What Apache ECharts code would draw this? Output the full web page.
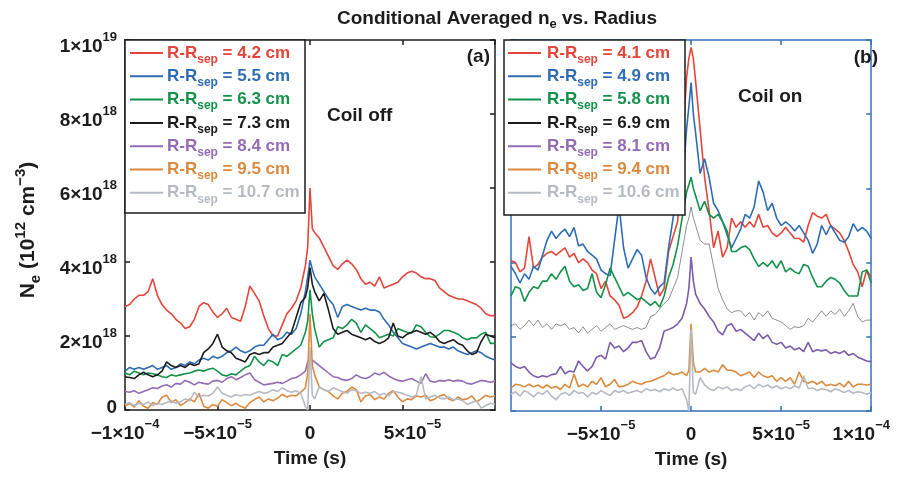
<!DOCTYPE html>
<html>
<head>
<meta charset="utf-8">
<script src="https://cdn.jsdelivr.net/npm/echarts@6/dist/echarts.min.js"></script>
<style>
  html, body { margin: 0; padding: 0; background: #fff; }
  #chartBox { width: 903px; height: 478px; }
</style>
</head>
<body>
<div id="chartBox"></div>
<script>
// time axis in microseconds, densities in units of 1e18
const time = [
  -100, -97.5, -95, -92.5, -90, -87.5, -85, -82.5, -80, -77.5,
  -75, -72.5, -70, -67.5, -65, -62.5, -60, -57.5, -55, -52.5,
  -50, -47.5, -45, -42.5, -40, -37.5, -35, -32.5, -30, -27.5,
  -25, -22.5, -20, -17.5, -15, -12.5, -10, -7.5, -5, -2.5,
  -1.25, 0, 1.25,
  2.5, 5, 7.5, 10, 12.5, 15, 17.5, 20, 22.5, 25,
  27.5, 30, 32.5, 35, 37.5, 40, 42.5, 45, 47.5, 50,
  52.5, 55, 57.5, 60, 62.5, 65, 67.5, 70, 72.5, 75,
  77.5, 80, 82.5, 85, 87.5, 90, 92.5, 95, 97.5, 100
];

// (a) coil off
const labelsOff = ['4.2 cm', '5.5 cm', '6.3 cm', '7.3 cm', '8.4 cm', '9.5 cm', '10.7 cm'];
const off42 = [
  2.8, 2.85, 3.0, 3.1, 3.1, 3.2, 3.55, 3.1, 2.85, 2.7,
  2.6, 2.45, 2.35, 2.2, 2.25, 2.45, 2.8, 2.9, 2.85, 2.65,
  2.5, 2.6, 2.75, 2.5, 2.45, 2.4, 2.8, 3.35, 3.15, 2.95,
  2.55, 2.2, 2.0, 2.0, 2.3, 2.6, 2.75, 2.95, 3.3, 3.9,
  4.4, 6.0, 4.9,
  4.8, 4.65, 4.4, 4.15, 3.9, 3.8, 3.95, 4.05, 3.95, 3.8,
  3.55, 3.4, 3.45, 3.35, 3.6, 3.3, 3.35, 3.4, 3.45, 3.6,
  3.7, 3.75, 3.7, 3.6, 3.55, 3.55, 3.5, 3.3, 3.2, 3.1,
  3.05, 3.0, 3.0, 2.95, 2.9, 2.85, 2.75, 2.6, 2.55, 2.55
];
const off55 = [
  1.05, 1.15, 1.1, 1.15, 1.1, 1.15, 1.2, 1.1, 1.15, 1.2,
  1.1, 1.15, 1.25, 1.2, 1.3, 1.25, 1.35, 1.4, 1.35, 1.45,
  1.4, 1.45, 1.55, 1.6, 1.7, 1.6, 1.55, 1.6, 1.7, 1.75,
  1.75, 1.9, 2.05, 1.9, 1.95, 2.1, 2.05, 2.2, 2.6, 3.2,
  3.6, 4.05, 3.8,
  3.6, 3.4, 3.2, 3.0, 2.85, 2.5, 2.8, 2.85, 2.8, 2.75,
  2.7, 2.75, 2.7, 2.7, 2.65, 2.45, 2.3, 2.1, 1.95, 1.8,
  1.75, 1.7, 1.65, 1.7, 1.75, 1.8, 1.75, 1.7, 1.7, 1.65,
  1.7, 1.6, 1.55, 1.5, 1.55, 1.6, 1.55, 1.45, 1.4, 1.35
];
const off63 = [
  1.0, 0.95, 1.05, 1.0, 0.95, 1.0, 0.98, 0.95, 0.9, 0.88,
  0.95, 0.92, 0.95, 0.98, 1.0, 1.05, 1.08, 1.05, 1.1, 1.13,
  1.05, 0.95, 0.92, 0.98, 0.95, 1.05, 1.15, 1.2, 1.45, 1.3,
  1.2, 1.35, 1.3, 1.2, 1.5, 1.45, 1.55, 1.65, 1.75, 2.1,
  2.4, 3.25, 2.6,
  2.2, 1.7, 1.85, 1.9, 1.95, 2.25, 2.2, 2.3, 2.45, 2.35,
  2.1, 2.3, 2.2, 2.1, 1.95, 2.0, 2.05, 2.0, 2.2, 2.15,
  2.1, 2.08, 2.3, 2.25, 2.1, 1.98, 1.97, 2.05, 2.15, 2.15,
  2.1, 2.05, 1.95, 1.9, 1.95, 1.95, 2.05, 2.1, 1.8, 1.8
];
const off73 = [
  0.9, 0.88, 0.85, 0.95, 1.02, 0.95, 0.9, 0.95, 1.05, 1.3,
  1.2, 1.15, 1.2, 1.15, 1.25, 1.2, 1.25, 1.55, 1.65, 1.8,
  2.05, 1.7, 1.6, 1.55, 1.4, 1.35, 1.3, 1.5, 1.55, 1.5,
  1.55, 1.55, 1.7, 1.75, 1.8, 1.95, 2.1, 2.5, 2.9, 3.05,
  3.3, 3.85, 3.4,
  3.2, 2.95, 3.15, 2.7, 2.2, 2.05, 2.1, 2.15, 2.05, 2.0,
  1.95, 1.9, 1.95, 1.85, 1.8, 1.85, 1.95, 2.35, 2.0, 1.95,
  2.05, 2.1, 2.15, 2.1, 2.05, 2.1, 2.0, 1.85, 1.8, 1.85,
  1.9, 1.8, 1.75, 1.6, 1.5, 1.55, 1.85, 2.05, 2.0, 1.95
];
const off84 = [
  0.5, 0.48, 0.52, 0.45, 0.5, 0.55, 0.6, 0.58, 0.65, 0.68,
  0.62, 0.72, 0.7, 0.8, 0.75, 0.68, 0.75, 0.72, 0.7, 0.78,
  0.8, 0.75, 0.85, 0.9, 0.82, 0.88, 0.95, 1.0, 0.82, 0.75,
  0.68, 0.7, 0.72, 0.75, 0.72, 0.78, 0.85, 0.88, 0.95, 1.05,
  1.3, 1.4, 1.35,
  1.3, 1.2, 1.1, 1.0, 0.9, 0.88, 0.82, 0.8, 0.85, 0.95,
  0.88, 0.85, 0.9, 1.0, 0.95, 1.02, 0.92, 0.85, 0.8, 0.78,
  0.82, 0.85, 0.78, 0.72, 0.98, 0.78, 0.75, 0.8, 0.78, 0.82,
  0.78, 0.8, 0.78, 0.72, 0.7, 0.75, 0.8, 0.78, 0.75, 0.78
];
const off95 = [
  0.1, 0.18, 0.08, 0.25, 0.1, 0.05, 0.2, 0.15, 0.35, 0.4,
  0.2, 0.28, 0.12, 0.2, 0.3, 0.22, 0.45, 0.1, 0.05, 0.15,
  0.1, 0.28, 0.2, 0.12, 0.18, 0.1, 0.05, 0.2, 0.28, 0.35,
  0.22, 0.3, 0.25, 0.32, 0.42, 0.35, 0.4, 0.38, 0.48, 0.6,
  1.0, 2.6, 1.2,
  0.95, 0.62, 0.55, 0.5, 0.38, 0.3, 0.45, 0.5, 0.62, 0.55,
  0.22, 0.38, 0.42, 0.28, 0.35, 0.3, 0.45, 0.52, 0.35, 0.22,
  0.3, 0.28, 0.38, 0.35, 0.4, 0.25, 0.3, 0.38, 0.42, 0.3,
  0.25, 0.35, 0.28, 0.3, 0.38, 0.22, 0.3, 0.4, 0.35, 0.38
];
const off107 = [
  0.15, 0.2, 0.12, 0.18, 0.15, 0.22, 0.12, 0.18, 0.15, 0.2,
  0.25, 0.18, 0.22, 0.3, 0.25, 0.48, 0.35, 0.4, 0.38, 0.45,
  0.62, 0.45, 0.4, 0.35, 0.42, 0.38, 0.42, 0.4, 0.45, 0.5,
  0.45, 0.48, 0.55, 0.5, 0.6, 0.52, 0.48, 0.52, 0.45, 0.1,
  0.0, 1.7, 0.4,
  0.3, 0.62, 0.55, 0.5, 0.6, 0.55, 0.5, 0.45, 0.55, 0.52,
  0.45, 0.48, 0.45, 0.5, 0.4, 0.45, 0.38, 0.5, 0.48, 0.45,
  0.4, 0.35, 0.4, 0.9, 0.3, 0.35, 0.4, 0.32, 0.3, 0.35,
  0.28, 0.3, 0.25, 0.15, 0.2, 0.25, 0.05, 0.12, 0.18, 0.15
];

// (b) coil on
const labelsOn = ['4.1 cm', '4.9 cm', '5.8 cm', '6.9 cm', '8.1 cm', '9.4 cm', '10.6 cm'];
const on41 = [
  4.05, 4.0, 3.75, 3.85, 4.7, 3.85, 3.95, 4.15, 4.25, 4.3,
  4.2, 4.3, 4.4, 4.15, 4.25, 4.0, 4.1, 4.0, 3.8, 3.7,
  3.3, 3.5, 3.1, 3.0, 2.85, 2.5, 2.55, 2.65, 2.8, 3.1,
  3.5, 4.1, 3.6, 3.1, 3.3, 4.3, 4.7, 5.1, 7.0, 9.0,
  9.5, 9.8, 9.5,
  8.9, 7.6, 6.3, 5.4, 4.4, 4.85, 4.15, 4.4, 5.2, 4.95,
  5.1, 4.95, 5.1, 4.95, 5.3, 4.95, 5.0, 4.8, 4.7, 4.8,
  4.95, 4.8, 4.65, 4.65, 4.55, 5.0, 5.35, 5.25, 5.2, 5.3,
  5.0, 4.9, 4.8, 4.6, 4.3, 3.95, 3.75, 3.35, 3.8, 3.6
];
const on49 = [
  3.9, 3.7, 3.45, 3.7, 3.55, 3.9, 3.8, 4.2, 4.6, 4.85,
  4.65, 4.8, 4.9, 4.7, 4.95, 4.45, 4.5, 4.3, 4.2, 4.1,
  3.8, 3.7, 3.65, 4.6, 5.55, 4.4, 3.85, 4.1, 4.35, 4.2,
  3.6, 3.3, 3.15, 3.35, 3.45, 4.4, 5.2, 5.95, 5.9, 7.6,
  8.2, 8.85, 8.0,
  7.5, 6.4, 6.8, 6.3, 5.6, 5.4, 5.1, 4.75, 4.4, 4.65,
  4.9, 5.3, 5.2, 5.5, 6.2, 5.9, 5.4, 5.6, 5.2, 5.0,
  5.1, 5.0, 4.85, 5.0, 4.8, 4.6, 4.25, 4.5, 5.0, 4.75,
  5.0, 4.8, 4.6, 4.55, 4.7, 5.05, 4.85, 4.95, 4.85, 4.65
];
const on58 = [
  3.1, 3.35, 3.3, 2.95, 3.2, 3.35, 3.3, 3.5, 3.5, 3.7,
  3.55, 3.75, 3.9, 3.5, 3.35, 3.4, 3.25, 3.3, 3.7, 3.2,
  3.05, 3.4, 3.85, 3.6, 3.35, 3.1, 3.2, 3.1, 3.0, 3.05,
  2.95, 2.85, 2.95, 2.8, 3.1, 3.6, 3.95, 4.45, 5.2, 5.9,
  6.1, 6.3, 6.0,
  5.8, 5.4, 5.65, 5.3, 5.2, 5.3, 5.1, 4.85, 4.3, 4.3,
  4.4, 4.45, 4.35, 4.1, 3.9, 4.0, 3.9, 4.05, 3.85, 4.05,
  3.75, 3.85, 3.75, 3.7, 3.95, 3.9, 3.6, 3.35, 3.35, 3.5,
  3.6, 3.55, 3.45, 3.25, 3.1, 3.1, 3.1, 3.75, 3.8, 3.45
];
const on69 = [
  2.3, 2.35, 2.2, 2.3, 2.45, 2.3, 2.45, 2.25, 2.35, 2.2,
  2.35, 2.3, 2.35, 2.2, 2.25, 2.1, 2.27, 2.1, 2.2, 2.3,
  2.15, 2.25, 2.35, 2.2, 2.25, 2.3, 2.25, 2.2, 2.25, 2.2,
  2.25, 2.55, 2.6, 2.75, 2.9, 3.0, 3.3, 3.6, 4.3, 5.0,
  5.2, 5.5, 5.2,
  5.0, 4.6, 4.5, 4.5, 3.9, 3.3, 3.0, 2.75, 2.65, 2.7,
  2.7, 2.55, 2.65, 2.45, 2.65, 2.55, 2.7, 2.5, 2.45, 2.4,
  2.3, 2.2, 2.27, 2.25, 2.3, 2.5, 2.4, 2.55, 2.7, 2.55,
  2.7, 2.6, 2.75, 2.55, 2.7, 2.9, 2.55, 2.4, 2.45, 2.45
];
const on81 = [
  1.3, 1.2, 1.15, 1.2, 1.05, 0.95, 0.9, 0.95, 0.92, 0.98,
  1.0, 1.2, 1.0, 1.08, 1.05, 1.35, 1.2, 1.08, 1.2, 1.45,
  1.5, 1.4, 1.85, 1.7, 1.75, 1.6, 1.7, 1.85, 1.85, 1.9,
  1.6, 1.4, 1.45, 1.7, 2.15, 2.2, 2.25, 2.35, 2.5, 2.9,
  3.3, 4.15, 3.5,
  3.15, 2.9, 2.75, 2.55, 2.4, 2.15, 2.05, 2.3, 2.35, 2.15,
  2.2, 2.1, 2.0, 1.9, 2.1, 1.95, 2.05, 1.85, 1.8, 1.85,
  1.7, 1.75, 1.65, 1.7, 1.6, 1.85, 1.6, 1.65, 1.62, 1.65,
  1.55, 1.6, 1.55, 1.62, 1.5, 1.55, 1.45, 1.4, 1.35, 1.33
];
const on94 = [
  0.62, 0.72, 0.7, 0.65, 0.72, 0.65, 0.7, 0.62, 0.7, 0.62,
  0.66, 0.58, 0.72, 0.62, 1.0, 0.65, 0.72, 0.65, 0.8, 0.72,
  0.9, 0.65, 0.72, 0.85, 0.65, 0.67, 0.72, 0.8, 0.75, 0.72,
  0.78, 0.8, 0.85, 0.9, 0.95, 1.05, 0.98, 1.0, 1.05, 0.95,
  1.1, 2.35, 1.3,
  1.05, 1.05, 1.15, 1.05, 1.1, 1.05, 1.25, 1.1, 1.1, 1.05,
  0.95, 1.0, 1.05, 0.9, 1.05, 0.95, 0.9, 0.95, 0.8, 0.9,
  0.8, 0.9, 0.72, 1.05, 0.8, 0.75, 0.8, 0.72, 0.8, 0.68,
  0.72, 0.68, 0.75, 0.65, 0.8, 0.65, 0.72, 0.72, 0.7, 0.72
];
const on106 = [
  0.45, 0.52, 0.4, 0.55, 0.48, 0.38, 0.5, 0.45, 0.55, 0.4,
  0.3, 0.45, 0.5, 0.42, 0.55, 0.48, 0.5, 0.38, 0.5, 0.45,
  0.55, 0.48, 0.42, 0.55, 0.5, 0.55, 0.48, 0.52, 0.55, 0.5,
  0.6, 0.55, 0.58, 0.52, 0.6, 0.55, 0.62, 0.55, 0.6, 0.3,
  0.0, 2.2, 0.5,
  0.45, 0.9, 0.7, 0.6, 0.55, 0.65, 0.6, 0.65, 0.55, 0.6,
  0.55, 0.65, 0.7, 0.6, 0.72, 0.65, 0.7, 0.62, 0.68, 0.6,
  0.65, 0.6, 0.68, 0.62, 0.95, 0.6, 0.62, 0.55, 0.6, 0.58,
  0.52, 0.6, 0.55, 0.5, 0.55, 0.48, 0.52, 0.5, 0.45, 0.5
];

// tick labels
const yTicks = [0, 2, 4, 6, 8, 10];
const yTickMain = ['0', '2×10', '4×10', '6×10', '8×10', '1×10'];
const yTickExp = ['', '18', '18', '18', '18', '19'];
const xTicks = [-100, -50, 0, 50, 100];
const xTickMain = ['−1×10', '−5×10', '0', '5×10', '1×10'];
const xTickExp = ['−4', '−5', '', '−5', '−4'];

const colorsOff = ['#e5453b', '#2d6db4', '#12924b', '#1c1c1c', '#946cb6', '#dc8a3f', '#b6bbc2'];
const colorsOn = ['#e5453b', '#2d6db4', '#12924b', '#444444', '#7b5daa', '#dc8a3f', '#b6bbc2'];
const legendColorsOn = ['#e5453b', '#2d6db4', '#12924b', '#1c1c1c', '#946cb6', '#dc8a3f', '#b6bbc2'];

const FONT = "'Liberation Sans', Arial, Helvetica, sans-serif";
const INK = '#1c1c1c';
const FRAME_B = '#3571b8';

// rich text token: main text, superscript and subscript
function tok(size, color, extra) {
  return Object.assign({fontFamily: FONT, fontWeight: 'bold', fontSize: size, color: color, fill: color}, extra);
}

function xLabel(shiftMap) {
  return function (v) {
    const i = xTicks.indexOf(v);
    if (i < 0) return '';
    let s = '{m|' + xTickMain[i] + '}' + (xTickExp[i] ? '{p|' + xTickExp[i] + '}' : '');
    if (shiftMap && shiftMap[v]) s = shiftMap[v](s);
    return s;
  };
}
function yLabel(v) {
  const i = yTicks.indexOf(v);
  if (i < 0) return '';
  if (!yTickExp[i]) return '{z|' + yTickMain[i] + '}';
  return '{m|' + yTickMain[i] + '}{p|' + yTickExp[i] + '}';
}

const tickRich = {
  m: tok(19, INK, {lineHeight: 32}),
  p: tok(13, INK, {height: 13, verticalAlign: 'top'}),
  z: tok(19, INK, {height: 20, lineHeight: 38, verticalAlign: 'top'}),
  g: {width: 20},
  h: {width: 20}
};

function xAxisOf(grid, color, pos, labels) {
  return {
    gridIndex: grid, type: 'value', position: pos,
    min: -100, max: 100, interval: 50,
    axisLine: {show: true, onZero: false, lineStyle: {color: color, width: 1.5}},
    axisTick: {show: true, inside: true, length: 5, lineStyle: {color: color, width: 1.5}},
    splitLine: {show: false},
    axisLabel: labels || {show: false},
    name: pos === 'bottom' ? 'Time (s)' : '',
    nameLocation: 'middle', nameGap: 37,
    nameTextStyle: {fontFamily: FONT, fontWeight: 'bold', fontSize: 19, color: INK, lineHeight: 20}
  };
}
function yAxisOf(grid, color, pos, labels) {
  return {
    gridIndex: grid, type: 'value', position: pos,
    min: 0, max: 10, interval: 2,
    axisLine: {show: true, onZero: false, lineStyle: {color: color, width: 1.5}},
    axisTick: {show: true, inside: true, length: 5, lineStyle: {color: color, width: 1.5}},
    splitLine: {show: false},
    axisLabel: labels || {show: false}
  };
}

function pairs(vals) {
  return time.map((t, i) => [t, vals[i]]);
}
function makeSeries(list, labels, colors, axisIdx, thin) {
  return list.map((vals, i) => ({
    name: labels[i], type: 'line', xAxisIndex: axisIdx, yAxisIndex: axisIdx,
    data: pairs(vals), showSymbol: false, symbol: 'none',
    lineStyle: {color: colors[i], width: (thin === i) ? 0.6 : 1.6},
    emphasis: {disabled: true}, silent: true, z: 2
  }));
}

// legend boxes drawn as graphics
function legendBox(x0, w, h, lineX, textX, labels, colors) {
  const els = [{type: 'rect', z: 100, shape: {x: x0, y: 40, width: w, height: h},
    style: {fill: '#fff', stroke: INK, lineWidth: 1.5}}];
  labels.forEach((lab, i) => {
    const yc = 53 + i * 23.3;
    els.push({type: 'line', z: 101, shape: {x1: lineX, y1: yc, x2: lineX + 33, y2: yc},
      style: {stroke: colors[i], lineWidth: 2}});
    els.push({type: 'text', z: 101, x: textX, y: yc, style: {
      text: '{m|R-R}{b|sep}{m| = ' + lab + '}',
      align: 'left', verticalAlign: 'middle', textAlign: 'left', textVerticalAlign: 'middle',
      rich: {
        m: tok(17, colors[i], {lineHeight: 27}),
        b: tok(12, colors[i], {height: 14, verticalAlign: 'bottom'})
      }
    }});
  });
  return els;
}
function plainText(x, y, txt, align) {
  return {type: 'text', z: 101, x: x, y: y, style: {
    text: txt, fill: INK, font: 'bold 19px ' + FONT,
    align: align, verticalAlign: 'middle', textAlign: align, textVerticalAlign: 'middle'
  }};
}

const chart = echarts.init(document.getElementById('chartBox'));

const option = {
  animation: false,
  backgroundColor: '#fff',
  grid: [
    {left: 125, top: 40, width: 370, height: 370},
    {left: 511, top: 40, width: 371, height: 371}
  ],
  xAxis: [
    xAxisOf(0, INK, 'bottom', {show: true, margin: 8, showMaxLabel: false, rich: tickRich,
      formatter: xLabel({50: s => '{g|}' + s})}),
    xAxisOf(0, INK, 'top'),
    xAxisOf(1, FRAME_B, 'bottom', {show: true, margin: 8, showMinLabel: false, rich: tickRich,
      formatter: xLabel({100: s => s + '{h|}'})}),
    xAxisOf(1, FRAME_B, 'top')
  ],
  yAxis: [
    yAxisOf(0, INK, 'left', {show: true, margin: 8, padding: [14, 0, 0, 0], rich: tickRich, formatter: yLabel}),
    yAxisOf(0, INK, 'right'),
    yAxisOf(1, FRAME_B, 'left'),
    yAxisOf(1, FRAME_B, 'right')
  ],
  series: [].concat(
    makeSeries([off42, off55, off63, off73, off84, off95, off107], labelsOff, colorsOff, 0, -1),
    makeSeries([on41, on49, on58, on69, on81, on94, on106], labelsOn, colorsOn, 2, 3)
  ),
  graphic: [].concat(
    [{type: 'text', z: 101, x: 497, y: 18.5, style: {
      text: '{m|Conditional Averaged n}{b|e}{m| vs. Radius}',
      align: 'center', verticalAlign: 'middle', textAlign: 'center', textVerticalAlign: 'middle',
      rich: {m: tok(19, INK, {lineHeight: 24}), b: tok(13, INK, {height: 13, verticalAlign: 'bottom'})}
    }},
    {type: 'text', z: 101, x: 28, y: 230, rotation: Math.PI / 2, style: {
      text: '{m|N}{b|e}{m| (10}{p|12}{m| cm}{p|−3}{m|)}',
      align: 'center', verticalAlign: 'middle', textAlign: 'center', textVerticalAlign: 'middle',
      rich: {
        m: tok(21, INK, {lineHeight: 30}),
        p: tok(15, INK, {height: 15, verticalAlign: 'top'}),
        b: tok(15, INK, {height: 15, verticalAlign: 'bottom'})
      }
    }},
    plainText(327, 116, 'Coil off', 'left'),
    plainText(738, 97, 'Coil on', 'left'),
    plainText(490, 57, '(a)', 'right'),
    plainText(878, 58, '(b)', 'right')],
    legendBox(125, 180, 173, 130, 167, labelsOff, colorsOff),
    legendBox(504, 181, 175, 508, 547, labelsOn, legendColorsOn)
  )
};

chart.setOption(option);
</script>
</body>
</html>
